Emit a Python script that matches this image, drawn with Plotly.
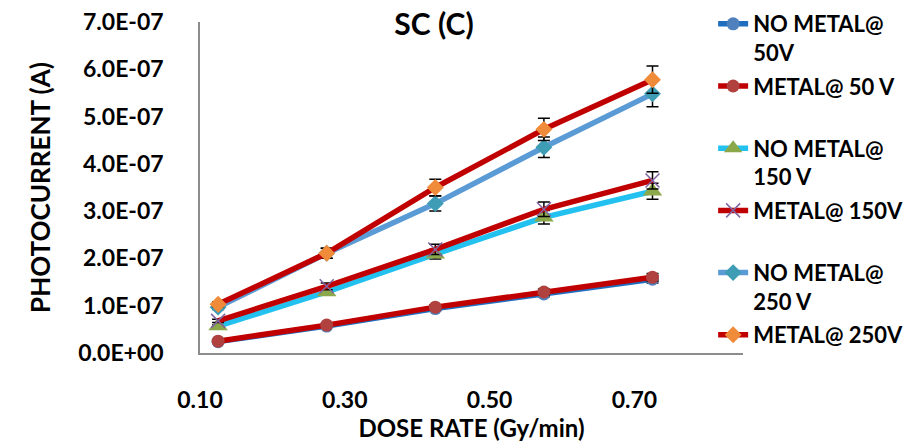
import plotly.graph_objects as go

dose_rate = [0.125, 0.275, 0.425, 0.575, 0.725]

no_metal_50 = [0.24e-7, 0.57e-7, 0.94e-7, 1.25e-7, 1.56e-7]
metal_50 = [0.25e-7, 0.59e-7, 0.97e-7, 1.29e-7, 1.60e-7]
no_metal_150 = [0.57e-7, 1.29e-7, 2.09e-7, 2.87e-7, 3.42e-7]
metal_150 = [0.68e-7, 1.41e-7, 2.19e-7, 3.04e-7, 3.65e-7]
no_metal_250 = [0.97e-7, 2.11e-7, 3.16e-7, 4.35e-7, 5.48e-7]
metal_250 = [1.03e-7, 2.11e-7, 3.50e-7, 4.73e-7, 5.78e-7]

error_pct = 5.0

names = ["NO METAL@<br>50V", "METAL@ 50 V<br> ", "NO METAL@<br>150 V",
         "METAL@ 150V<br> ", "NO METAL@<br>250 V", "METAL@ 250V<br> "]
series = [no_metal_50, metal_50, no_metal_150, metal_150, no_metal_250, metal_250]
line_colors = ["#1F6EC0", "#C00000", "#22C1F0", "#C00000", "#5B9BD5", "#C00000"]
marker_colors = ["#4F81BD", "#B0413E", "#8BA84A", "#8064A2", "#3E9DB5", "#F08B3A"]
symbols = ["circle", "circle", "triangle-up", "x-thin", "diamond", "diamond"]
marker_sizes = [13, 13, 17, 14, 13, 13]

y_ticks = [i * 1e-7 for i in range(8)]
x_ticks = [0.1, 0.3, 0.5, 0.7]

fig = go.Figure()
for i, (nm, ys) in enumerate(zip(names, series)):
    sym = symbols[i]
    marker = dict(symbol=sym, size=marker_sizes[i], color=marker_colors[i])
    if sym == "x-thin":
        marker["line"] = dict(color=marker_colors[i], width=1.5)
    fig.add_trace(go.Scatter(
        x=dose_rate, y=ys, name=nm, mode="lines+markers",
        legendgroup=f"g{i}",
        line=dict(color=line_colors[i], width=5.5),
        marker=marker,
        error_y=dict(type="percent", value=error_pct, color="black",
                     thickness=1.5, width=6),
    ))

font_family = "Lato, 'Open Sans', sans-serif"
fig.update_layout(
    width=920, height=443,
    margin=dict(l=200, r=177, t=22, b=90, autoexpand=False),
    paper_bgcolor="white", plot_bgcolor="white",
    font=dict(family=font_family, size=22, color="black", weight="bold"),
    title=dict(text="SC (C)", x=434 / 920, xanchor="center", xref="container",
               y=1 - 24 / 443, yanchor="middle", yref="container",
               font=dict(size=30, family=font_family, weight="bold")),
    legend=dict(x=0.945, xanchor="left", y=1 - 3 / 443, yanchor="top",
                yref="container", valign="top", tracegroupgap=2,
                maxheight=1.0,
                font=dict(size=22, family=font_family, weight="bold"),
                bgcolor="rgba(0,0,0,0)"),
    showlegend=True,
)
fig.update_xaxes(
    range=[0.1, 0.85], tickvals=x_ticks, ticktext=[f"{v:.2f}" for v in x_ticks],
    showline=True, linecolor="#8C8C8C", linewidth=1.5, showgrid=False,
    zeroline=False, ticks="", ticklabelstandoff=26,
    tickfont=dict(size=23),
    title=dict(text="DOSE RATE (Gy/min)", font=dict(size=24), standoff=4),
)
fig.update_yaxes(
    range=[0, 7e-7], tickvals=y_ticks, ticktext=[f"{v:.1E}" for v in y_ticks],
    showline=True, linecolor="#8C8C8C", linewidth=1.5, showgrid=False,
    zeroline=False, ticks="", ticklabelstandoff=30,
    tickfont=dict(size=23),
    title=dict(text="PHOTOCURRENT (A)", font=dict(size=26), standoff=20),
)

fig.write_html("out.html")
